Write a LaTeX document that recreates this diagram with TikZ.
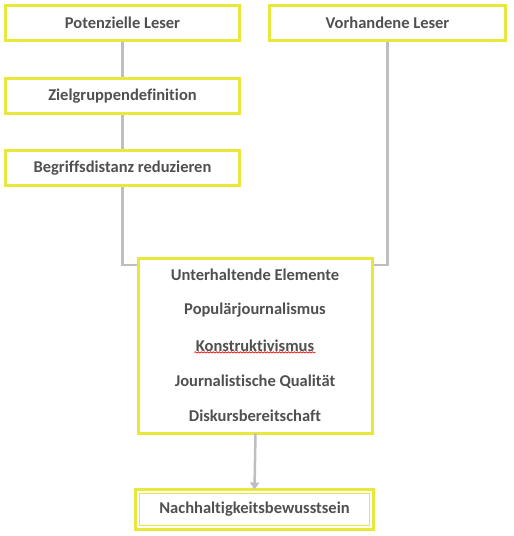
\documentclass[tikz,border=0pt]{standalone}
\usepackage{fontspec}
\setmainfont{Carlito}[Ligatures=NoCommon]
\usetikzlibrary{arrows.meta,decorations.pathmorphing,backgrounds}
\definecolor{boxyellow}{RGB}{232,232,58}
\definecolor{linegray}{RGB}{190,190,190}
\definecolor{textgray}{RGB}{80,80,80}
\tikzset{
  box/.style={draw=boxyellow, line width=3pt, fill=white, text=textgray,
    font=\bfseries\fontsize{16.5}{19}\selectfont, anchor=north west,
    inner sep=0pt, outer sep=0pt},
  label/.style={text=textgray, font=\bfseries\fontsize{16.5}{19}\selectfont},
  link/.style={draw=linegray, line width=2.5pt}
}
\begin{document}
\begin{tikzpicture}[x=1pt,y=-1pt]
  \useasboundingbox (0,0) rectangle (514,536);
  \coordinate (lbend) at (122.5,265);
  \coordinate (rbend) at (386.5,265);
  % top row
  \node[box, minimum width=234pt, minimum height=35pt] (potenziell) at (5.5,5.5) {Potenzielle Leser};
  \node[box, minimum width=236pt, minimum height=35pt] (vorhanden) at (269.5,5.5) {Vorhandene Leser};
  % left column
  \node[box, minimum width=234pt, minimum height=35pt] (ziel) at (5.5,78.5) {Zielgruppendefinition};
  \node[box, minimum width=234pt, minimum height=35pt] (begriff) at (5.5,150.5) {Begriffsdistanz reduzieren};
  % centre box with five lines
  \node[box, minimum width=234pt, minimum height=175pt] (mitte) at (138.5,258.5) {};
  \node[label] (unterhaltend) at (255,275) {Unterhaltende Elemente};
  \node[label] (populaer) at (255,310) {Populärjournalismus};
  \node[label] (konstrukt) at (255,346) {Konstruktivismus};
  \node[label] (qualitaet) at (255,382) {Journalistische Qualität};
  \node[label] (diskurs) at (255,416) {Diskursbereitschaft};
  \draw[red, line width=0.6pt, decorate, decoration={snake, amplitude=0.7pt, segment length=3pt}]
    ([xshift=2pt,yshift=3pt]konstrukt.south west) -- ([xshift=-2pt,yshift=3pt]konstrukt.south east);
  % result box, double border
  \node[box, minimum width=238pt, minimum height=40pt] (nachhaltig) at (135.5,489.5) {Nachhaltigkeitsbewusstsein};
  \draw[boxyellow, line width=1pt] ([shift={(4pt,-4pt)}]nachhaltig.north west) rectangle ([shift={(-4pt,4pt)}]nachhaltig.south east);
  % connectors
  \begin{scope}[on background layer]
  \draw[link] (potenziell.south) -- (ziel.north);
  \draw[link] (ziel.south) -- (begriff.north);
  \draw[link] (begriff.south) -- (begriff.south |- lbend) -- (lbend -| mitte.west);
  \draw[link] (vorhanden.south) -- (vorhanden.south |- rbend) -- (rbend -| mitte.east);
  \end{scope}
  \draw[link, -{Triangle[width=9pt,length=7pt]}] (mitte.south) -- (nachhaltig.north);
\end{tikzpicture}
\end{document}
